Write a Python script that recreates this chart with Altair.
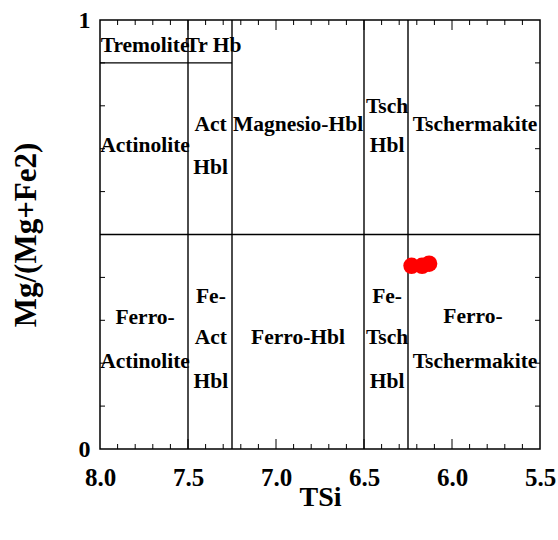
import altair as alt
import pandas as pd

W, H = 440, 429
FONT = "Liberation Serif"

# Amphibole samples (TSi, Mg/(Mg+Fe2))
tsi = [6.23, 6.17, 6.13]
mg_number = [0.427, 0.427, 0.432]

# Field boundaries of the calcic-amphibole classification diagram
seg_x = [8.0, 8.0, 7.5, 7.25, 6.5, 6.25]
seg_x2 = [5.5, 7.25, 7.5, 7.25, 6.5, 6.25]
seg_y = [0.5, 0.9, 0.0, 0.0, 0.0, 0.0]
seg_y2 = [0.5, 0.9, 1.0, 1.0, 1.0, 1.0]

# Field names, one row per text line
field_text = ["Tremolite", "Tr Hb", "Actinolite", "Act", "Hbl", "Magnesio-Hbl",
              "Tsch", "Hbl", "Tschermakite",
              "Ferro-", "Actinolite", "Fe-", "Act", "Hbl", "Ferro-Hbl",
              "Fe-", "Tsch", "Hbl", "Ferro-", "Tschermakite"]
field_x = [7.744, 7.355, 7.744, 7.372, 7.372, 6.875,
           6.369, 6.369, 5.869,
           7.744, 7.744, 7.37, 7.37, 7.37, 6.875,
           6.369, 6.369, 6.369, 5.881, 5.869]
field_y = [0.939, 0.939, 0.706, 0.755, 0.655, 0.755,
           0.797, 0.706, 0.755,
           0.305, 0.203, 0.354, 0.259, 0.156, 0.259,
           0.354, 0.259, 0.156, 0.308, 0.203]

# Axis labels and tick marks
x_labels = [8.0, 7.5, 7.0, 6.5, 6.0, 5.5]
y_labels = [0, 1]
x_major_inner = [7.5, 7.0, 6.5, 6.0]
x_minor = [7.9, 7.8, 7.7, 7.6, 7.4, 7.3, 7.2, 7.1, 6.9, 6.8, 6.7, 6.6,
           6.4, 6.3, 6.2, 6.1, 5.9, 5.8, 5.7, 5.6]
y_minor = [0.1, 0.2, 0.3, 0.4, 0.5, 0.6, 0.7, 0.8, 0.9]

xs = alt.Scale(domain=[5.5, 8.0], reverse=True, nice=False, zero=False)
ys = alt.Scale(domain=[0, 1], nice=False, zero=False)

pts = pd.DataFrame({"TSi": tsi, "Mg": mg_number})
segs = pd.DataFrame({"x": seg_x, "x2": seg_x2, "y": seg_y, "y2": seg_y2})
fields = pd.DataFrame({"t": field_text, "x": field_x, "y": field_y})

x_axis = alt.Axis(
    values=x_labels, format=".1f", ticks=False, domain=False, grid=False,
    labelFont=FONT, labelFontWeight="bold", labelFontSize=25, labelColor="black",
    labelPadding=16, labelFlush=False, labelOverlap=False,
    title="TSi", titleFont=FONT, titleFontWeight="bold",
    titleFontSize=28, titleColor="black", titleY=48, titleBaseline="middle",
)
y_axis = alt.Axis(
    values=y_labels, format="d", ticks=False, domain=False, grid=False,
    labelFont=FONT, labelFontWeight="bold", labelFontSize=24, labelColor="black",
    labelPadding=10, labelFlush=False, labelOverlap=False,
    title="Mg/(Mg+Fe2)", titleFont=FONT, titleFontWeight="bold",
    titleFontSize=31, titleColor="black", titleX=-74, titleY=H / 2,
    titleAngle=270, titleBaseline="middle",
)

bounds = alt.Chart(segs).mark_rule(color="black", strokeWidth=1.4).encode(
    x=alt.X("x:Q", scale=xs, axis=x_axis, title="TSi"),
    x2="x2:Q",
    y=alt.Y("y:Q", scale=ys, axis=y_axis, title="Mg/(Mg+Fe2)"),
    y2="y2:Q",
)

points = alt.Chart(pts).mark_circle(size=270, color="#ff0000", opacity=1).encode(
    x=alt.X("TSi:Q", scale=xs, axis=x_axis, title="TSi"),
    y=alt.Y("Mg:Q", scale=ys, axis=y_axis, title="Mg/(Mg+Fe2)"),
)

labels = alt.Chart(fields).mark_text(
    font=FONT, fontWeight="bold", fontSize=21.5, color="black",
    align="center", baseline="middle",
).encode(
    x=alt.X("x:Q", scale=xs, axis=x_axis, title="TSi"),
    y=alt.Y("y:Q", scale=ys, axis=y_axis, title="Mg/(Mg+Fe2)"),
    text="t:N",
)


def xticks(values, y0, y1):
    return alt.Chart(pd.DataFrame({"v": values})).mark_rule(
        color="black", strokeWidth=1
    ).encode(
        x=alt.X("v:Q", scale=xs, axis=x_axis, title="TSi"),
        y=alt.value(y0), y2=alt.value(y1),
    )


def yticks(values, x0, x1):
    return alt.Chart(pd.DataFrame({"v": values})).mark_rule(
        color="black", strokeWidth=1
    ).encode(
        y=alt.Y("v:Q", scale=ys, axis=y_axis, title="Mg/(Mg+Fe2)"),
        x=alt.value(x0), x2=alt.value(x1),
    )


ticks = [
    xticks(x_minor, H, H - 5), xticks(x_major_inner, H, H - 10),
    xticks(x_minor, 0, 5), xticks(x_major_inner, 0, 10),
    yticks(y_minor, 0, 5), yticks(y_minor, W, W - 5),
]

chart = alt.layer(bounds, *ticks, labels, points).properties(
    width=W, height=H,
    autosize=alt.AutoSizeParams(type="none"),
    padding={"left": 100, "top": 20, "right": 18, "bottom": 91},
    background="white",
).configure_view(stroke="black", strokeWidth=1.5)

chart.save("out.html", embed_options={"renderer": "svg", "actions": False})
